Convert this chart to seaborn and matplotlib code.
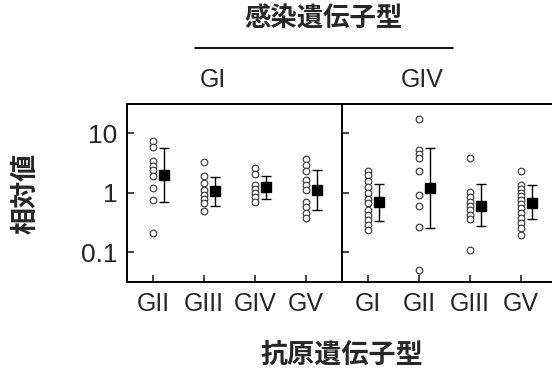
import numpy as np
import pandas as pd
import seaborn as sns
import matplotlib
matplotlib.use("Agg")
import matplotlib.pyplot as plt
from matplotlib.lines import Line2D

# infection genotype GI panel: antigen genotypes
left_cats = ["GII", "GIII", "GIV", "GV"]
left_points = {
    "GII": [7.3, 5.8, 3.45, 2.84, 2.37, 1.88, 1.2, 0.74, 0.21],
    "GIII": [3.28, 1.88, 1.46, 1.09, 0.92, 0.78, 0.67, 0.485],
    "GIV": [2.6, 2.09, 1.36, 1.15, 0.99, 0.84, 0.71],
    "GV": [3.68, 2.96, 2.28, 1.65, 1.36, 1.12, 0.71, 0.575, 0.456, 0.376],
}
left_mean = [1.95, 1.08, 1.23, 1.09]
left_hi = [5.6, 1.83, 1.93, 2.44]
left_lo = [0.70, 0.605, 0.78, 0.52]

# infection genotype GIV panel
right_cats = ["GI", "GII", "GIII", "GV"]
right_points = {
    "GI": [2.34, 1.95, 1.59, 1.25, 0.99, 0.79, 0.67, 0.52, 0.43, 0.35, 0.29, 0.24],
    "GII": [17.3, 5.14, 4.52, 3.83, 2.28, 0.92, 0.605, 0.265, 0.051],
    "GIII": [3.83, 1.01, 0.85, 0.71, 0.605, 0.505, 0.43, 0.36, 0.11],
    "GV": [2.28, 1.36, 1.15, 0.99, 0.87, 0.76, 0.65, 0.55, 0.456, 0.376, 0.31, 0.26, 0.197],
}
right_mean = [0.69, 1.2, 0.605, 0.67]
right_hi = [1.40, 5.6, 1.42, 1.33]
right_lo = [0.34, 0.26, 0.28, 0.36]

sns.set_style("ticks")
plt.rcParams["font.family"] = ["Liberation Sans", "Noto Sans CJK JP", "DejaVu Sans"]
cjk = ["Noto Sans CJK JP", "DejaVu Sans"]

fig = plt.figure(figsize=(5.52, 3.76), dpi=100)
ax1 = fig.add_axes([127 / 552, 94 / 376, 215 / 552, 178 / 376])
ax2 = fig.add_axes([342 / 552, 94 / 376, 215 / 552, 178 / 376])


def draw_panel(ax, cats, points, mean, hi, lo):
    df = pd.DataFrame(
        [(c, v) for c in cats for v in points[c]], columns=["geno", "value"]
    )
    sns.stripplot(data=df, x="geno", y="value", order=cats, jitter=False,
                  color="white", edgecolor="#333333", linewidth=0.8, size=4.8,
                  ax=ax, zorder=3)
    pos = np.arange(len(cats)) + 0.22
    mean = np.array(mean)
    yerr = [mean - np.array(lo), np.array(hi) - mean]
    ax.errorbar(pos, mean, yerr=yerr, fmt="s", color="black", ms=7,
                elinewidth=1.0, capsize=3.5, capthick=1.0, zorder=4)
    ax.set_yscale("log")
    ax.set_ylim(10 ** -1.5, 10 ** 1.49)
    ax.set_xlim(-0.51, 3.71)
    ax.set_xlabel("")
    ax.set_ylabel("")
    ax.tick_params(direction="in", length=5, width=1.2, labelsize=18, pad=7)
    ax.tick_params(axis="y", which="minor", left=False)
    for s in ax.spines.values():
        s.set_visible(True)
        s.set_linewidth(1.4)
        s.set_color("black")


draw_panel(ax1, left_cats, left_points, left_mean, left_hi, left_lo)
draw_panel(ax2, right_cats, right_points, right_mean, right_hi, right_lo)

ax1.set_yticks([0.1, 1, 10])
ax1.set_yticklabels(["0.1", "1", "10"], fontsize=19)
ax2.set_yticks([0.1, 1, 10])
ax2.set_yticklabels([])

fig.text(25 / 552, 1 - 193 / 376, "相対値", rotation=90, ha="center",
         va="center", fontsize=19.5, family=cjk, weight="bold")
fig.text(342 / 552, 1 - 355 / 376, "抗原遺伝子型", ha="center", va="center",
         fontsize=19.5, family=cjk, weight="bold")
fig.text(324 / 552, 1 - 19 / 376, "感染遺伝子型", ha="center", va="center",
         fontsize=19, family=cjk, weight="bold")
fig.add_artist(Line2D([195 / 552, 453 / 552], [1 - 48 / 376, 1 - 48 / 376],
                      transform=fig.transFigure, color="black", lw=1.3))
fig.text(213 / 552, 1 - 80 / 376, "GI", ha="center", va="center", fontsize=18)
fig.text(422 / 552, 1 - 80 / 376, "GIV", ha="center", va="center", fontsize=18)

fig.savefig("out.png", dpi=100)
